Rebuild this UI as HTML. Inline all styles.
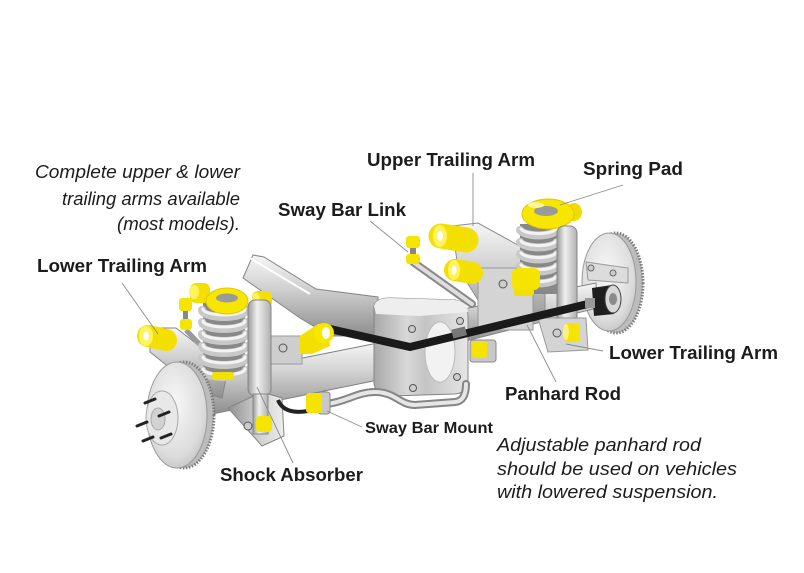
<!DOCTYPE html>
<html><head><meta charset="utf-8"><style>
html,body{margin:0;padding:0;background:#fff;width:804px;height:573px;overflow:hidden}
svg{display:block}
text{font-family:"Liberation Sans",Arial,sans-serif;fill:#1c1c1c}
.b{font-weight:bold;font-size:18px}
.i{font-style:italic;font-size:18px}
</style></head><body>
<svg width="804" height="573" viewBox="0 0 804 573" xmlns="http://www.w3.org/2000/svg">
<defs>
<linearGradient id="mv" x1="0" y1="0" x2="0" y2="1"><stop offset="0" stop-color="#f6f6f6"/><stop offset=".4" stop-color="#d2d2d2"/><stop offset="1" stop-color="#8e8e8e"/></linearGradient>
<linearGradient id="mh" x1="0" y1="0" x2="1" y2="0"><stop offset="0" stop-color="#9a9a9a"/><stop offset=".4" stop-color="#f0f0f0"/><stop offset="1" stop-color="#b0b0b0"/></linearGradient>
<linearGradient id="md" x1="0" y1="0" x2="1" y2="0"><stop offset="0" stop-color="#909090"/><stop offset=".5" stop-color="#cccccc"/><stop offset="1" stop-color="#eeeeee"/></linearGradient>
<linearGradient id="dh" x1="0" y1="0" x2="1" y2="0"><stop offset="0" stop-color="#a8a8a8"/><stop offset=".35" stop-color="#d8d8d8"/><stop offset=".55" stop-color="#c4c4c4"/><stop offset="1" stop-color="#e6e6e6"/></linearGradient>
<radialGradient id="disc" cx=".45" cy=".4" r=".7"><stop offset="0" stop-color="#f8f8f8"/><stop offset=".7" stop-color="#dcdcdc"/><stop offset="1" stop-color="#bcbcbc"/></radialGradient>
</defs>
<rect width="804" height="573" fill="#fff"/>

<!-- ========== RIGHT SIDE (back) ========== -->
<ellipse cx="616" cy="283" rx="27" ry="50" fill="#bcbcbc" stroke="#7c7c7c" stroke-width="3" stroke-dasharray="1.5 1.5"/>
<ellipse cx="609" cy="282" rx="27" ry="49" fill="url(#disc)" stroke="#9a9a9a"/>
<polygon points="586,262 628,268 628,283 588,280" fill="#dcdcdc" stroke="#999"/>
<circle cx="591" cy="268" r="3" fill="#ccc" stroke="#666"/>
<circle cx="613" cy="273" r="3" fill="#ccc" stroke="#666"/>
<!-- right axle tube -->
<polygon points="458,310 596,283 597,308 458,343" fill="url(#mv)" stroke="#858585"/>
<!-- hub -->
<path d="M592,288 L612,285 L614,314 L594,316 Z" fill="#1e1e1e"/>
<ellipse cx="613" cy="299" rx="8" ry="14" fill="#d8d8d8" stroke="#444"/>
<ellipse cx="613" cy="299" rx="4" ry="6" fill="#8a8a8a"/>
<!-- right upper arm plate -->
<path d="M452,226 L478,223 L545,260 L545,318 L500,330 L478,300 L458,268 Z" fill="url(#mv)" stroke="#8e8e8e"/>
<rect x="478" y="268" width="55" height="62" fill="#d4d4d4" stroke="#999"/>
<circle cx="503" cy="284" r="4" fill="#ccc" stroke="#555"/>
<!-- right spring -->
<rect x="520" y="224" width="37" height="70" fill="#888"/>
<g fill="none" stroke-linecap="round">
<path d="M520,230 A19,7 0 0 0 557,230" stroke="#c8c8c8" stroke-width="8"/><path d="M521,229 A18,6 0 0 0 556,229" stroke="#f3f3f3" stroke-width="3"/>
<path d="M520,242 A19,7 0 0 0 557,242" stroke="#c8c8c8" stroke-width="8"/><path d="M521,241 A18,6 0 0 0 556,241" stroke="#f3f3f3" stroke-width="3"/>
<path d="M520,254 A19,7 0 0 0 557,254" stroke="#c8c8c8" stroke-width="8"/><path d="M521,253 A18,6 0 0 0 556,253" stroke="#f3f3f3" stroke-width="3"/>
<path d="M520,266 A19,7 0 0 0 557,266" stroke="#c8c8c8" stroke-width="8"/><path d="M521,265 A18,6 0 0 0 556,265" stroke="#f3f3f3" stroke-width="3"/>
<path d="M520,278 A19,7 0 0 0 557,278" stroke="#c8c8c8" stroke-width="8"/><path d="M521,277 A18,6 0 0 0 556,277" stroke="#f3f3f3" stroke-width="3"/>
</g>
<rect x="514" y="288" width="20" height="8" rx="3" fill="#f2e000"/>
<!-- right spring pad -->
<ellipse cx="574" cy="212" rx="8" ry="9" fill="#efdc00"/>
<ellipse cx="548" cy="214" rx="26" ry="15" fill="#f7e600" stroke="#e0c800"/>
<ellipse cx="546" cy="211" rx="12" ry="5" fill="#9a9a9a"/>
<ellipse cx="536" cy="205" rx="8" ry="3" fill="#fff69a"/>
<!-- right shock -->
<rect x="557" y="226" width="20" height="118" rx="7" fill="url(#mh)" stroke="#858585"/>
<!-- right lower arm plate -->
<polygon points="538,318 586,318 588,350 548,352" fill="#d4d4d4" stroke="#999"/>
<rect x="564" y="323" width="16" height="19" rx="4" fill="#f5e300"/>
<ellipse cx="566" cy="332" rx="3" ry="8" fill="#fff27a"/>
<circle cx="557" cy="333" r="4" fill="#ccc" stroke="#555"/>
<!-- right upper arm bushings -->
<line x1="441" y1="236" x2="466" y2="240" stroke="#f3df00" stroke-width="25" stroke-linecap="round"/>
<ellipse cx="440" cy="236" rx="7" ry="11" fill="#fff35e"/>
<ellipse cx="440" cy="236" rx="3" ry="5" fill="#fff"/>
<line x1="455" y1="270" x2="472" y2="273" stroke="#f3df00" stroke-width="22" stroke-linecap="round"/>
<ellipse cx="454" cy="270" rx="6" ry="10" fill="#fff35e"/>
<ellipse cx="454" cy="270" rx="2.5" ry="4.5" fill="#fff"/>
<rect x="512" y="268" width="28" height="22" rx="6" fill="#f5e300"/>

<!-- ========== MIDDLE ========== -->
<!-- left big upper arm -->
<path d="M243,278 L253,255 L264,257 L316,289 L378,297 L378,336 L330,336 L300,318 Z" fill="url(#mv)" stroke="#858585"/>
<line x1="250" y1="258" x2="310" y2="294" stroke="#fff" stroke-width="2"/>
<!-- left axle tube -->
<polygon points="212,376 378,343 378,380 212,414" fill="url(#mv)" stroke="#808080"/>
<!-- diff housing -->
<path d="M374,306 Q376,298 390,298 L455,300 Q468,302 468,316 L468,380 Q467,393 455,394 L390,396 Q375,395 374,383 Z" fill="url(#dh)" stroke="#858585"/>
<path d="M374,306 Q376,298 390,298 L455,300 Q468,302 468,312 L420,316 L376,314 Z" fill="#eeeeee"/>
<ellipse cx="440" cy="352" rx="15" ry="30" fill="#f2f2f2" stroke="#bbb"/>
<circle cx="412" cy="329" r="3.5" fill="#ccc" stroke="#555"/>
<circle cx="460" cy="321" r="3.5" fill="#ccc" stroke="#555"/>
<circle cx="413" cy="388" r="3.5" fill="#ccc" stroke="#555"/>
<circle cx="457" cy="377" r="3.5" fill="#ccc" stroke="#555"/>
<!-- sway bar link right -->
<line x1="413" y1="262" x2="472" y2="304" stroke="#888" stroke-width="8" stroke-linecap="round"/>
<line x1="413" y1="262" x2="472" y2="304" stroke="#dedede" stroke-width="4" stroke-linecap="round"/>
<rect x="406" y="236" width="14" height="12" rx="3" fill="#f5e300"/>
<rect x="410" y="248" width="6" height="6" fill="#888"/>
<rect x="406" y="254" width="14" height="10" rx="3" fill="#f5e300"/>
<!-- right sway bar mount -->
<rect x="470" y="340" width="26" height="22" rx="3" fill="#c8c8c8" stroke="#888"/>
<rect x="472" y="341" width="15" height="17" rx="3" fill="#f5e300"/>
<!-- panhard rod -->
<polyline points="330,329 410,347 596,302" fill="none" stroke="#1a1a1a" stroke-width="8" stroke-linejoin="round"/>
<rect x="452" y="328" width="14" height="9" fill="#777" transform="rotate(-14 459 332)"/>
<rect x="585" y="298" width="10" height="10" fill="#999"/>
<!-- panhard left bushing/bracket -->
<rect x="268" y="336" width="34" height="28" fill="#cecece" stroke="#999"/>
<circle cx="283" cy="348" r="4" fill="#ccc" stroke="#555"/>
<path d="M300,336 L318,324 L328,326 L330,346 L312,354 L300,354 Z" fill="#f3df00"/>
<circle cx="324" cy="333" r="10" fill="#f8e800"/>
<ellipse cx="326" cy="333" rx="4" ry="6" fill="#fff"/>

<!-- ========== LEFT SIDE ========== -->
<!-- left lower trailing arm -->
<path d="M150,328 L176,328 L228,368 L222,398 L200,392 L150,352 Z" fill="url(#mv)" stroke="#858585"/>
<!-- sway link left -->
<line x1="186" y1="330" x2="205" y2="350" stroke="#999" stroke-width="5"/>
<rect x="179" y="298" width="13" height="13" rx="3" fill="#f5e300"/>
<rect x="183" y="311" width="5" height="8" fill="#888"/>
<rect x="180" y="319" width="12" height="11" rx="3" fill="#f5e300"/>
<!-- left spring -->
<rect x="203" y="302" width="42" height="74" fill="#888"/>
<g fill="none" stroke-linecap="round">
<path d="M202,310 A22,7 0 0 0 246,310" stroke="#c8c8c8" stroke-width="8"/><path d="M203,309 A21,6 0 0 0 245,309" stroke="#f3f3f3" stroke-width="3"/>
<path d="M202,322 A22,7 0 0 0 246,322" stroke="#c8c8c8" stroke-width="8"/><path d="M203,321 A21,6 0 0 0 245,321" stroke="#f3f3f3" stroke-width="3"/>
<path d="M202,334 A22,7 0 0 0 246,334" stroke="#c8c8c8" stroke-width="8"/><path d="M203,333 A21,6 0 0 0 245,333" stroke="#f3f3f3" stroke-width="3"/>
<path d="M202,346 A22,7 0 0 0 246,346" stroke="#c8c8c8" stroke-width="8"/><path d="M203,345 A21,6 0 0 0 245,345" stroke="#f3f3f3" stroke-width="3"/>
<path d="M202,358 A22,7 0 0 0 246,358" stroke="#c8c8c8" stroke-width="8"/><path d="M203,357 A21,6 0 0 0 245,357" stroke="#f3f3f3" stroke-width="3"/>
<path d="M202,370 A22,7 0 0 0 246,370" stroke="#c8c8c8" stroke-width="8"/><path d="M203,369 A21,6 0 0 0 245,369" stroke="#f3f3f3" stroke-width="3"/>
</g>
<rect x="212" y="372" width="22" height="8" rx="3" fill="#f2e000"/>
<!-- left spring pad -->
<rect x="190" y="283" width="20" height="20" rx="6" fill="#f3df00"/>
<ellipse cx="194" cy="292" rx="5" ry="7" fill="#fff35e"/>
<ellipse cx="227" cy="301" rx="21" ry="13" fill="#f7e600" stroke="#e0c800"/>
<ellipse cx="227" cy="298" rx="11" ry="4.5" fill="#9a9a9a"/>
<rect x="252" y="291" width="20" height="17" rx="6" fill="#f3df00"/>
<ellipse cx="256" cy="299" rx="4" ry="6" fill="#fff35e"/>
<!-- left shock lower bracket -->
<path d="M228,408 L262,392 L282,398 L284,436 L262,446 Z" fill="url(#md)" stroke="#858585"/>
<!-- left shock -->
<rect x="248" y="300" width="23" height="96" rx="7" fill="url(#mh)" stroke="#858585"/>
<rect x="253" y="394" width="15" height="40" fill="url(#mh)" stroke="#858585"/>
<rect x="256" y="416" width="16" height="16" rx="4" fill="#f5e300"/>
<circle cx="248" cy="426" r="4" fill="#ccc" stroke="#555"/>
<!-- left lower arm bushing -->
<line x1="148" y1="336" x2="166" y2="340" stroke="#f3df00" stroke-width="22" stroke-linecap="round"/>
<ellipse cx="146" cy="336" rx="7" ry="10" fill="#fff35e"/>
<ellipse cx="146" cy="336" rx="3" ry="4.5" fill="#fff"/>
<!-- sway bar -->
<path d="M316,405 C345,404 355,392 375,392 C395,392 400,405 415,405 L455,402 Q466,401 466,384" fill="none" stroke="#858585" stroke-width="8" stroke-linecap="round"/>
<path d="M316,405 C345,404 355,392 375,392 C395,392 400,405 415,405 L455,402 Q466,401 466,384" fill="none" stroke="#e6e6e6" stroke-width="4" stroke-linecap="round"/>
<!-- hose -->
<path d="M278,400 Q284,415 308,411" fill="none" stroke="#222" stroke-width="4"/>
<!-- left sway bar mount -->
<rect x="318" y="392" width="12" height="22" rx="3" fill="#c8c8c8" stroke="#888"/>
<rect x="306" y="393" width="16" height="20" rx="3" fill="#f5e300"/>
<!-- left disc -->
<ellipse cx="184" cy="415" rx="30" ry="53" fill="#bcbcbc" stroke="#7c7c7c" stroke-width="3" stroke-dasharray="1.5 1.5"/>
<ellipse cx="177" cy="415" rx="30" ry="53" fill="url(#disc)" stroke="#9a9a9a"/>
<ellipse cx="162" cy="418" rx="16" ry="27" fill="#e8e8e8" stroke="#aaa"/>
<ellipse cx="158" cy="419" rx="7" ry="11" fill="#d2d2d2" stroke="#aaa"/>
<g stroke="#222" stroke-width="3" stroke-linecap="round">
<line x1="145" y1="403" x2="155" y2="399"/>
<line x1="159" y1="416" x2="169" y2="412"/>
<line x1="137" y1="426" x2="147" y2="422"/>
<line x1="143" y1="441" x2="153" y2="437"/>
<line x1="161" y1="438" x2="171" y2="434"/>
</g>

<!-- ========== LEADER LINES ========== -->
<g stroke="#8c8c8c" stroke-width="0.9" fill="none">
<line x1="122" y1="283" x2="158" y2="334"/>
<line x1="370" y1="221" x2="408" y2="252"/>
<line x1="473" y1="173" x2="473" y2="226"/>
<line x1="623" y1="185" x2="560" y2="205"/>
<line x1="603" y1="351" x2="566" y2="344"/>
<line x1="556" y1="382" x2="527" y2="325"/>
<line x1="362" y1="427" x2="327" y2="411"/>
<line x1="293" y1="463" x2="257" y2="387"/>
</g>

<!-- ========== TEXT ========== -->
<g font-family="Liberation Sans, Arial, sans-serif">
<text class="i" x="35" y="178" textLength="205" lengthAdjust="spacingAndGlyphs">Complete upper &amp; lower</text>
<text class="i" x="62" y="205" textLength="178" lengthAdjust="spacingAndGlyphs">trailing arms available</text>
<text class="i" x="117" y="230" textLength="123" lengthAdjust="spacingAndGlyphs">(most models).</text>
<text class="b" x="37" y="272" textLength="170" lengthAdjust="spacingAndGlyphs">Lower Trailing Arm</text>
<text class="b" x="367" y="166" textLength="168" lengthAdjust="spacingAndGlyphs">Upper Trailing Arm</text>
<text class="b" x="583" y="175" textLength="100" lengthAdjust="spacingAndGlyphs">Spring Pad</text>
<text class="b" x="278" y="216" textLength="128" lengthAdjust="spacingAndGlyphs">Sway Bar Link</text>
<text class="b" x="609" y="359" textLength="169" lengthAdjust="spacingAndGlyphs">Lower Trailing Arm</text>
<text class="b" x="505" y="400" textLength="116" lengthAdjust="spacingAndGlyphs">Panhard Rod</text>
<text x="365" y="433" font-family="Liberation Sans, Arial, sans-serif" font-weight="bold" font-size="16" textLength="128" lengthAdjust="spacingAndGlyphs">Sway Bar Mount</text>
<text class="b" x="220" y="481" textLength="143" lengthAdjust="spacingAndGlyphs">Shock Absorber</text>
<text class="i" x="497" y="451" textLength="204" lengthAdjust="spacingAndGlyphs">Adjustable panhard rod</text>
<text class="i" x="497" y="475" textLength="240" lengthAdjust="spacingAndGlyphs">should be used on vehicles</text>
<text class="i" x="497" y="498" textLength="221" lengthAdjust="spacingAndGlyphs">with lowered suspension.</text>
</g>
</svg>
</body></html>
